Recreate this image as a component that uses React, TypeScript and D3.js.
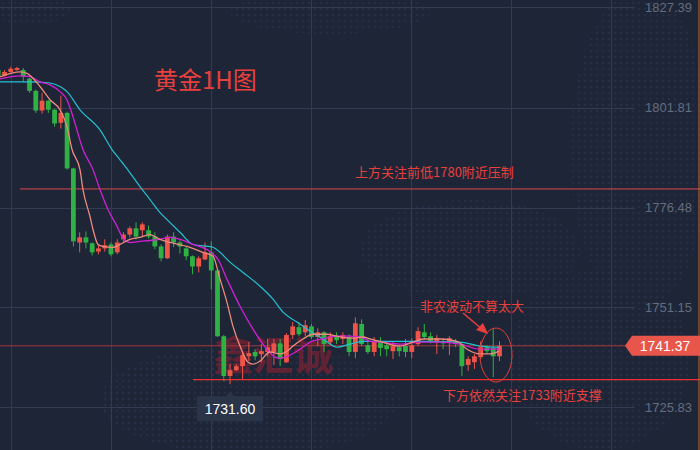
import React from "react";
import * as d3 from "d3";

// ---- data ----
const opens = [1811.4,1809.9,1810.9,1811.4,1811.4,1809.2,1806.1,1801.1,1803.6,1801.3,1798.0,1800.5,1786.4,1767.6,1768.9,1767.4,1765.3,1766.1,1767.1,1765.1,1768.4,1769.6,1771.2,1770.7,1770.7,1769.1,1766.6,1763.6,1769.1,1767.6,1766.1,1764.1,1761.5,1763.3,1765.1,1760.5,1743.8,1733.7,1735.2,1736.2,1738.7,1739.8,1739.3,1739.8,1739.8,1742.0,1737.2,1744.1,1746.1,1744.8,1746.3,1743.6,1744.8,1742.3,1743.8,1743.1,1743.6,1739.8,1746.9,1741.5,1739.8,1742.3,1741.5,1740.0,1741.0,1741.3,1739.8,1741.8,1744.8,1743.8,1742.3,1742.5,1742.3,1742.5,1741.8,1736.5,1737.2,1738.5,1741.0,1740.8,1738.7];
const highs = [1811.7,1811.4,1812.2,1812.2,1811.9,1809.4,1806.4,1805.6,1803.8,1801.6,1804.9,1800.8,1786.6,1770.2,1770.4,1767.6,1767.1,1768.4,1767.6,1768.4,1770.2,1771.7,1772.7,1772.7,1771.9,1770.2,1767.1,1769.6,1770.2,1768.1,1766.6,1764.3,1764.1,1767.6,1767.9,1760.8,1744.1,1736.7,1736.7,1739.8,1742.3,1740.5,1741.8,1743.1,1743.1,1743.1,1744.6,1747.4,1747.4,1747.9,1746.9,1745.8,1745.1,1744.8,1744.8,1744.8,1744.3,1748.6,1748.1,1743.1,1743.6,1743.6,1742.3,1742.5,1741.5,1743.1,1743.3,1746.1,1746.9,1744.8,1744.1,1743.3,1743.8,1743.1,1742.0,1738.7,1739.3,1742.5,1741.5,1745.6,1742.5];
const lows = [1809.7,1809.7,1810.7,1811.2,1808.4,1805.6,1800.5,1800.3,1800.5,1797.0,1796.5,1786.1,1766.6,1765.1,1766.1,1764.3,1764.6,1765.3,1764.1,1764.6,1767.6,1768.9,1768.4,1769.1,1768.6,1765.9,1762.8,1763.4,1766.4,1764.8,1763.1,1759.5,1760.0,1763.1,1755.7,1743.6,1732.4,1731.6,1734.9,1732.7,1737.5,1737.7,1737.2,1738.7,1736.5,1736.2,1737.0,1743.1,1743.8,1743.8,1743.1,1741.3,1739.8,1741.8,1741.8,1741.8,1738.7,1738.2,1741.3,1739.3,1738.7,1738.7,1738.7,1738.0,1738.7,1738.5,1738.2,1741.3,1743.1,1742.0,1739.3,1740.5,1739.0,1741.0,1733.7,1735.0,1735.5,1738.0,1739.5,1733.4,1737.5];
const closes = [1809.9,1810.9,1811.7,1811.9,1809.7,1806.1,1801.1,1803.6,1801.3,1797.8,1800.5,1786.4,1767.9,1768.9,1767.6,1765.1,1766.1,1766.9,1764.6,1767.6,1769.6,1771.2,1769.1,1772.2,1769.1,1766.6,1763.6,1769.1,1767.6,1766.6,1764.1,1761.5,1763.6,1765.1,1760.5,1743.8,1733.7,1735.2,1736.2,1739.0,1739.5,1738.7,1740.0,1741.0,1742.0,1738.0,1744.1,1746.3,1744.3,1746.6,1743.6,1744.8,1741.8,1743.8,1742.8,1744.1,1739.8,1747.1,1741.8,1739.8,1742.5,1740.8,1740.5,1741.3,1740.0,1739.8,1741.5,1745.1,1743.6,1742.5,1743.3,1742.0,1743.3,1741.8,1736.2,1738.0,1738.7,1741.0,1740.0,1738.7,1741.37];

// moving-average lines read as [bar index, price]
const maFast: [number, number][] = [[0.29,1809.66],[3.48,1810.93],[4.6,1810.55],[6.67,1807.2],[8.27,1803.83],[9.86,1801.3],[10.98,1797.0],[11.78,1791.2],[13.05,1786.1],[13.53,1781.0],[14.65,1774.2],[15.13,1770.9],[15.93,1767.1],[16.73,1766.6],[18.32,1766.35],[19.44,1767.1],[21.03,1768.4],[22.63,1768.9],[24.23,1769.6],[25.82,1768.4],[27.42,1767.6],[30.13,1766.6],[32.68,1765.1],[34.28,1764.1],[35.4,1758.3],[36.51,1752.4],[37.47,1746.3],[38.59,1741.3],[39.87,1737.2],[40.66,1736.7],[41.78,1737.5],[43.38,1739.8],[44.97,1739.3],[46.09,1740.0],[47.05,1741.3],[48.64,1743.1],[50.24,1744.3],[52.47,1744.3],[54.07,1743.8],[56.62,1743.3],[58.22,1743.6],[59.34,1743.1],[60.93,1742.5],[64.13,1741.3],[66.2,1742.3],[67.8,1743.1],[70.51,1743.1],[73.22,1742.5],[74.82,1740.5],[76.89,1739.3],[78.49,1739.3],[79.92,1740.0]];
const maMid: [number, number][] = [[0.29,1809.15],[3.48,1809.9],[5.07,1809.7],[6.67,1808.4],[8.27,1807.6],[9.86,1805.9],[10.98,1803.8],[11.94,1799.5],[13.53,1791.2],[15.13,1786.1],[16.25,1781.0],[17.52,1776.0],[18.96,1771.7],[19.76,1769.1],[21.03,1767.6],[22.63,1767.9],[24.23,1768.1],[25.82,1768.4],[27.42,1768.9],[29.01,1768.4],[31.09,1767.1],[33.8,1765.3],[35.08,1763.3],[36.51,1758.3],[38.59,1751.4],[40.66,1745.6],[42.9,1740.5],[44.18,1738.5],[44.97,1738.2],[46.09,1738.7],[48.17,1740.5],[49.76,1742.3],[51.84,1743.1],[54.07,1743.8],[56.15,1743.8],[57.74,1743.6],[59.34,1742.5],[60.93,1742.3],[64.13,1741.8],[67.32,1742.3],[70.51,1742.3],[73.7,1741.8],[76.89,1740.5],[79.92,1740.5]];
const maSlow: [number, number][] = [[0.29,1808.4],[5.07,1808.4],[8.27,1808.1],[9.86,1807.2],[10.98,1805.9],[13.05,1801.3],[16.25,1796.2],[18.16,1791.2],[19.44,1788.6],[21.03,1785.3],[22.63,1781.8],[24.23,1778.5],[25.82,1775.2],[26.94,1773.4],[29.01,1770.2],[31.09,1767.1],[34.28,1766.4],[35.4,1765.1],[36.99,1762.6],[39.07,1760.0],[41.78,1756.5],[43.86,1753.2],[45.45,1749.9],[47.69,1747.4],[49.76,1745.1],[51.84,1743.1],[54.07,1741.0],[56.15,1741.8],[58.22,1742.5],[62.53,1742.5],[67.32,1742.5],[73.7,1742.3],[76.89,1741.3],[79.92,1741.0]];

const yTicks = [1827.39, 1801.81, 1776.48, 1751.15, 1725.83];
const lastPrice = 1741.37;
const lowPrice = 1731.6;
const lowIndex = 37;
const resistanceLevel = 1781.2;
const supportLevel = 1732.8;
const title = "黄金1H图";
const noteTop = "上方关注前低1780附近压制";
const noteMid = "非农波动不算太大";
const noteBottom = "下方依然关注1733附近支撑";
const watermark = "鑫汇诚";

const W = 700, H = 450;
const UP = "#ee5448", DOWN = "#2fb144";
const CJK = "'Noto Sans CJK SC', 'Noto Sans', sans-serif";
const NUM = "'Liberation Sans', Arial, sans-serif";

export default function App() {
  const x = d3.scaleLinear().domain([0, 80]).range([-1.8, 499.5]);
  const y = d3.scaleLinear().domain([1725.83, 1827.39]).range([407, 7]);
  const line = d3.line<[number, number]>().x(d => x(d[0])).y(d => y(d[1])).curve(d3.curveMonotoneX);
  const bw = 4.8;
  const vGrid = d3.range(11, W, 100);
  const yLast = y(lastPrice);
  const lowX = x(lowIndex);

  return (
    <svg width={W} height={H} style={{ position: "absolute", left: 0, top: 0, display: "block" }} xmlns="http://www.w3.org/2000/svg">
      <defs>
        <pattern id="dots" width="6" height="6" patternUnits="userSpaceOnUse">
          <circle cx="3" cy="3" r="1.3" fill="#28314a" />
        </pattern>
      </defs>
      <rect width={W} height={H} fill="#1e2537" />
      {/* faint world-map dots */}
      <g fill="url(#dots)" opacity={0.8}>
        <ellipse cx={330} cy={12} rx={100} ry={22} />
        <ellipse cx={640} cy={150} rx={70} ry={160} />
        <ellipse cx={470} cy={250} rx={110} ry={50} />
        <ellipse cx={600} cy={360} rx={90} ry={90} />
        <ellipse cx={250} cy={400} rx={150} ry={55} />
        <ellipse cx={30} cy={10} rx={40} ry={15} />
      </g>
      {/* grid */}
      <g stroke="#323c50" strokeWidth={1}>
        {vGrid.map(v => <line key={v} x1={v + 0.5} x2={v + 0.5} y1={0} y2={H} />)}
        {yTicks.map(t => <line key={t} x1={0} x2={635} y1={Math.round(y(t)) + 0.5} y2={Math.round(y(t)) + 0.5} />)}
      </g>
      {/* watermark */}
      <text x={213} y={370} fontFamily={CJK} fontSize={40} fontWeight={700} fill="#8e2232" opacity={0.6}>{watermark}</text>
      {/* level lines */}
      <line x1={20} x2={W} y1={y(resistanceLevel)} y2={y(resistanceLevel)} stroke="#d9484a" strokeWidth={1} />
      <line x1={0} x2={626} y1={yLast} y2={yLast} stroke="#a8373c" strokeWidth={1} />
      <line x1={193} x2={W} y1={y(supportLevel)} y2={y(supportLevel)} stroke="#f0302c" strokeWidth={1.2} />
      {/* candles */}
      <g>
        {opens.map((o, i) => {
          const c = closes[i];
          const col = c >= o ? UP : DOWN;
          const cx = x(i);
          const top = y(Math.max(o, c));
          const bot = y(Math.min(o, c));
          return (
            <g key={i}>
              <line x1={cx} x2={cx} y1={y(highs[i])} y2={y(lows[i])} stroke={col} strokeWidth={1} />
              <rect x={cx - bw / 2} y={top} width={bw} height={Math.max(1, bot - top)} fill={col} />
            </g>
          );
        })}
      </g>
      {/* moving averages */}
      <path d={line(maSlow) || ""} fill="none" stroke="#23c2d3" strokeWidth={1.2} />
      <path d={line(maMid) || ""} fill="none" stroke="#d21fd6" strokeWidth={1.3} />
      <path d={line(maFast) || ""} fill="none" stroke="#ef8a7c" strokeWidth={1.3} />
      {/* y axis labels */}
      <g fontFamily={NUM} fontSize={13} fill="#636d7e" textAnchor="end">
        {yTicks.map(t => <text key={t} x={692} y={y(t) + 4.5}>{t.toFixed(2)}</text>)}
      </g>
      <line x1={699} x2={699} y1={0} y2={H} stroke="#b8662e" strokeWidth={1} />
      {/* last price tag */}
      <path d={`M625,${yLast} L632,${yLast - 10} L700,${yLast - 10} L700,${yLast + 10} L632,${yLast + 10} Z`} fill="#e8564b" />
      <text x={665} y={yLast + 5} fontFamily={NUM} fontSize={14} fill="#ffffff" textAnchor="middle">{lastPrice.toFixed(2)}</text>
      {/* low tag */}
      <path d={`M197,${y(lowPrice) + 12} L${lowX - 4},${y(lowPrice) + 12} L${lowX},${y(lowPrice) + 7} L${lowX + 4},${y(lowPrice) + 12} L263,${y(lowPrice) + 12} L263,${y(lowPrice) + 37} L197,${y(lowPrice) + 37} Z`} fill="#2b354a" />
      <text x={230} y={y(lowPrice) + 30} fontFamily={NUM} fontSize={14} fill="#ffffff" textAnchor="middle">{lowPrice.toFixed(2)}</text>
      {/* annotations */}
      <text x={154} y={89} fontFamily={CJK} fontSize={24} fill="#e8403c">{title}</text>
      <text x={355} y={177} fontFamily={CJK} fontSize={13} fill="#e8403c">{noteTop}</text>
      <text x={420} y={311} fontFamily={CJK} fontSize={13} fill="#e8403c">{noteMid}</text>
      <text x={443} y={400} fontFamily={CJK} fontSize={13} fill="#e8403c">{noteBottom}</text>
      <line x1={463} y1={313} x2={483} y2={330} stroke="#e8403c" strokeWidth={1.5} />
      <path d="M488,334 L476,330 L483,323 Z" fill="#e8403c" />
      <ellipse cx={496} cy={355} rx={16} ry={27} fill="none" stroke="#e04038" strokeWidth={1} />
    </svg>
  );
}
